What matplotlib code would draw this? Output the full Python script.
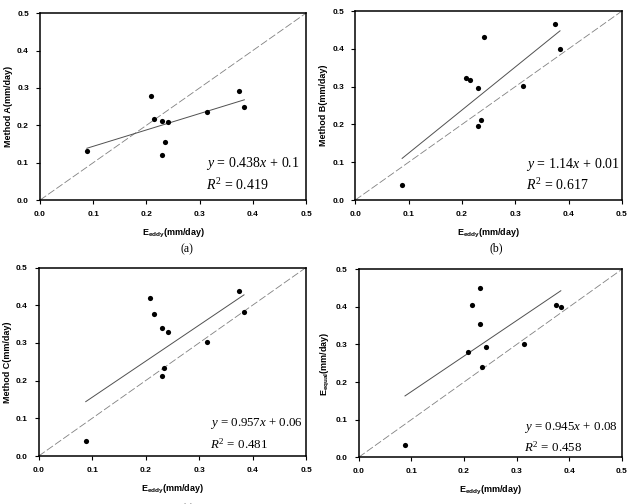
import numpy as np
import matplotlib
matplotlib.use("Agg")
import matplotlib.pyplot as plt

plt.rcParams['font.family'] = ['Liberation Sans', 'DejaVu Sans']
plt.rcParams['mathtext.fontset'] = 'custom'
plt.rcParams['mathtext.rm'] = 'Liberation Serif'
plt.rcParams['mathtext.it'] = 'Liberation Serif:italic'
plt.rcParams['mathtext.bf'] = 'Liberation Sans:bold'

# measured evaporation (eddy covariance), same for all panels
e_eddy = [0.088, 0.208, 0.215, 0.230, 0.230, 0.235, 0.241, 0.314, 0.374, 0.384]

method_a = [0.131, 0.277, 0.216, 0.212, 0.121, 0.156, 0.210, 0.236, 0.293, 0.249]
method_b = [0.041, 0.322, 0.317, 0.297, 0.195, 0.212, 0.431, 0.303, 0.465, 0.399]
method_c = [0.040, 0.419, 0.377, 0.339, 0.213, 0.233, 0.328, 0.302, 0.439, 0.383]
e_equal = [0.033, 0.280, 0.406, 0.451, 0.355, 0.241, 0.294, 0.302, 0.405, 0.400]

slopes = [0.438, 1.14, 0.957, 0.945]
intercepts = [0.1, 0.01, 0.06, 0.08]
r2 = [0.419, 0.617, 0.481, 0.458]
slope_txt = ["0.438", "1.14", "0.957", "0.945"]
icpt_txt = ["0.1", "0.01", "0.06", "0.08"]

ylabels = ["Method A(mm/day)", "Method B(mm/day)", "Method C(mm/day)",
           r"$\mathbf{E_{equal}}$(mm/day)"]
captions = ["(a)", "(b)", "(c)", "(d)"]
series = [method_a, method_b, method_c, e_equal]

# [left, bottom, width, height] in figure fractions
positions = [
    [0.0633, 0.603, 0.421, 0.371],
    [0.562, 0.603, 0.422, 0.375],
    [0.0612, 0.0952, 0.423, 0.374],
    [0.5675, 0.0927, 0.4165, 0.373],
]
eq_pos = [(0.624, 0.198, 0.08), (0.64, 0.19, 0.079),
          (0.64, 0.175, 0.06), (0.63, 0.16, 0.055)]
eq_size = [10, 10, 9.3, 9.3]
cap_xy = [(187, 249), (496, 248), (188, 509), (495, 509)]

fig = plt.figure(figsize=(6.32, 5.04), dpi=100)

for i in range(4):
    ax = fig.add_axes(positions[i])
    x = np.array(e_eddy)
    y = np.array(series[i])

    # 1:1 line
    ax.plot([0, 0.5], [0, 0.5], color='#808080', lw=0.6,
            linestyle=(0, (9, 3)))
    # regression line over data range
    xx = np.array([x.min(), x.max()])
    ax.plot(xx, slopes[i] * xx + intercepts[i], color='#505050', lw=0.7)
    ax.scatter(x, y, s=14, color='black', zorder=3, linewidths=0)

    ax.set_xlim(0, 0.5)
    ax.set_ylim(0, 0.5)
    ticks = [0.0, 0.1, 0.2, 0.3, 0.4, 0.5]
    ax.set_xticks(ticks)
    ax.set_yticks(ticks)
    ax.set_xticklabels(["%.1f" % t for t in ticks], fontweight='bold')
    ax.set_yticklabels(["%.1f" % t for t in ticks], fontweight='bold')
    ax.tick_params(labelsize=6, length=3, width=0.8, direction='out', pad=5)
    for s in ax.spines.values():
        s.set_linewidth(1.1)

    ax.set_xlabel(r"$\mathbf{E_{eddy}}$(mm/day)", fontsize=6.5,
                  fontweight='bold', labelpad=6)
    ax.set_ylabel(ylabels[i], fontsize=6.5, fontweight='bold', labelpad=3)

    ex, ey1, ey2 = eq_pos[i]
    ax.text(ex, ey1, r"$y\,=\,%s x\,+\,%s$" % (slope_txt[i], icpt_txt[i]),
            transform=ax.transAxes, fontsize=eq_size[i], va='center', ha='left')
    ax.text(ex, ey2, r"$R^2\,=\,%s$" % r2[i],
            transform=ax.transAxes, fontsize=eq_size[i], va='center', ha='left')

    cx, cy = cap_xy[i]
    fig.text(cx / 632, 1 - cy / 504, captions[i], family='Liberation Serif',
             fontsize=8.5, ha='center', va='center')

fig.savefig("out.png", dpi=100)
